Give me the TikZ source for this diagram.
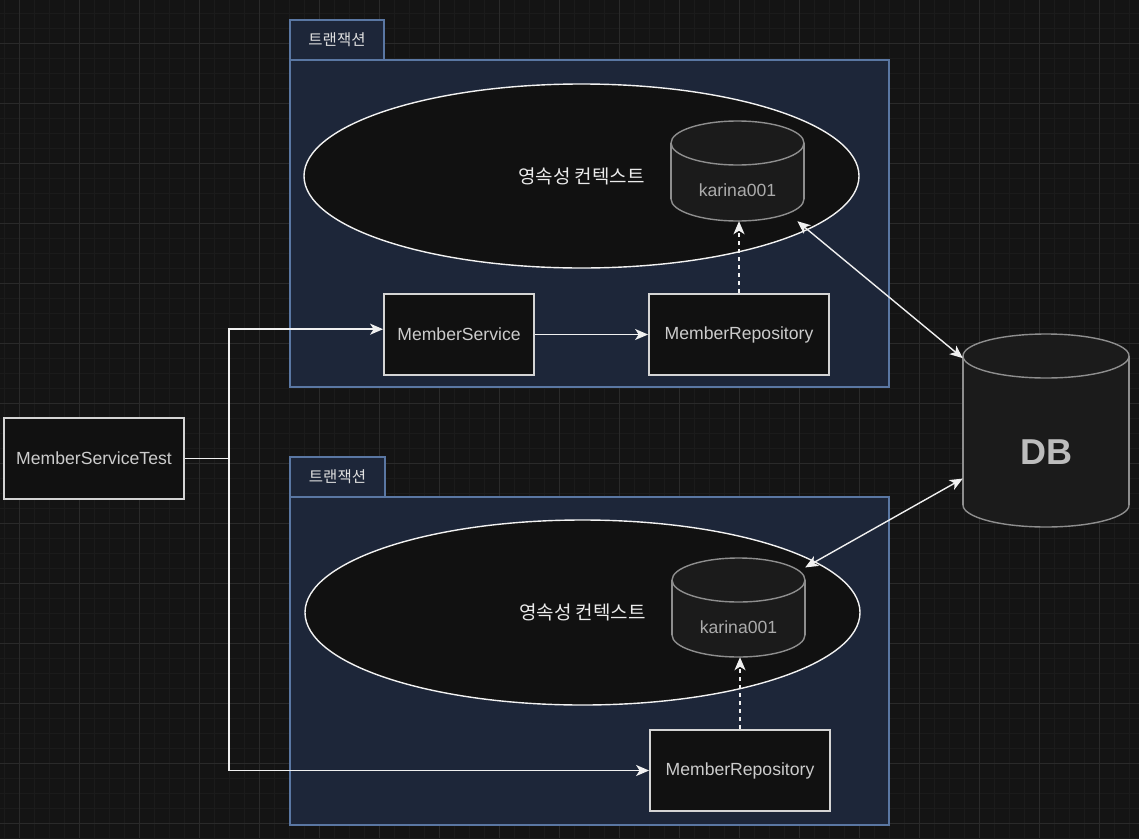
\documentclass[tikz,border=0pt]{standalone}
\usepackage{fontspec}
\setmainfont{Liberation Sans}
\newfontfamily\krfont{Noto Sans CJK KR}
\usetikzlibrary{shapes.geometric,arrows.meta}
\definecolor{bgc}{HTML}{141414}
\definecolor{minorc}{HTML}{1b1b1b}
\definecolor{majorc}{HTML}{2a2a2a}
\definecolor{txfill}{HTML}{1d2639}
\definecolor{txline}{HTML}{5a77a3}
\definecolor{boxfill}{HTML}{111111}
\definecolor{boxline}{HTML}{d4d4d4}
\definecolor{cylfillc}{HTML}{1b1b1b}
\definecolor{cyllinec}{HTML}{8e8e8e}
\tikzset{
	txbox/.style={draw=txline,fill=txfill,line width=1.5pt,inner sep=0pt},
	tablabel/.style={txbox,text=white!88!black,font=\krfont\fontsize{15.5}{18}\selectfont},
	compbox/.style={draw=boxline,fill=boxfill,line width=1.8pt,minimum height=81pt,text=white!80!black,font=\fontsize{17.6}{20}\selectfont},
	ctxell/.style={ellipse,draw=white!95!black,fill=boxfill,line width=1.4pt,inner sep=0pt,text=white!92!black,font=\krfont\fontsize{19}{22}\selectfont},
	cylstyle/.style={draw=cyllinec,fill=cylfillc,line width=1.4pt},
	cylfill/.style={fill=cylfillc},
	link/.style={draw=white!94!black,line width=1.4pt,-{Stealth[length=13pt,width=11pt,inset=3.5pt]}},
	both/.style={link,{Stealth[length=13pt,width=11pt,inset=3.5pt]}-{Stealth[length=13pt,width=11pt,inset=3.5pt]}},
}
% name, cx, cy, half width, half height
\newcommand{\dbcyl}[5]{%
	\node[inner sep=0pt,minimum width={2*#4pt},minimum height={2*#5pt}] (#1) at (#2,#3) {};
	\filldraw[cylstyle] (#2,#3+#5-22) ellipse[x radius=#4,y radius=22];
	\fill[cylfill] (#2-#4,#3-#5+22) rectangle (#2+#4,#3+#5-22);
	\draw[cylstyle] (#2-#4,#3-#5+22) -- (#2-#4,#3+#5-22) (#2+#4,#3-#5+22) -- (#2+#4,#3+#5-22);
	\filldraw[cylstyle] (#2,#3-#5+22) ellipse[x radius=#4,y radius=22];
}
\begin{document}
\begin{tikzpicture}[x=1pt,y=-1pt]
	\fill[bgc] (0,0) rectangle (1139,838);
	\useasboundingbox (0,0) rectangle (1139,838);
	% grid
	\foreach \x in {4,19,...,1139} \draw[minorc,line width=1pt] (\x,0) -- (\x,838);
	\foreach \y in {13,28,...,838} \draw[minorc,line width=1pt] (0,\y) -- (1139,\y);
	\foreach \x in {19,79,...,1139} \draw[majorc,line width=1pt] (\x,0) -- (\x,838);
	\foreach \y in {43,103,...,838} \draw[majorc,line width=1pt] (0,\y) -- (1139,\y);

	% upper transaction
	\node[tablabel,minimum width=94pt,minimum height=40pt] (tabA) at (337,40) {트랜잭션};
	\node[txbox,minimum width=599pt,minimum height=327pt] (txA) at (589.5,223.5) {};
	\node[ctxell,minimum width=555pt,minimum height=184pt] (ctxA) at (581.5,176) {영속성 컨텍스트};
	\dbcyl{karA}{737.5}{171}{66.5}{50}
	\node[text=white!67!black,font=\fontsize{17.6}{20}\selectfont] (karAtxt) at (737.5,190) {karina001};
	\node[compbox,minimum width=150pt] (svc) at (459,334.5) {MemberService};
	\node[compbox,minimum width=180pt] (repA) at (739,334.5) {MemberRepository};

	% lower transaction
	\node[tablabel,minimum width=95pt,minimum height=40pt] (tabB) at (337.5,477) {트랜잭션};
	\node[txbox,minimum width=599pt,minimum height=328pt] (txB) at (589.5,661) {};
	\node[ctxell,minimum width=555pt,minimum height=185pt] (ctxB) at (582.5,612.5) {영속성 컨텍스트};
	\dbcyl{karB}{738.5}{607.5}{66.5}{49.5}
	\node[text=white!67!black,font=\fontsize{17.6}{20}\selectfont] (karBtxt) at (738.5,627) {karina001};
	\node[compbox,minimum width=180pt] (repB) at (740,770.5) {MemberRepository};

	% test and db
	\node[compbox,minimum width=180pt] (test) at (94,458.5) {MemberServiceTest};
	\dbcyl{db}{1046}{430.5}{83}{96.5}
	\node[text=white!74!black,font=\bfseries\fontsize{36}{40}\selectfont] (dbtxt) at (1046,452) {DB};

	% connectors
	\coordinate (fork) at (229,458.5);
	\draw[link] (test.east) -- (fork) |- (svc.176);
	\draw[link] (fork) |- (repB.west);
	\draw[link] (svc.east) -- (repA.west);
	\draw[link,dashed,dash pattern=on 4pt off 4pt] (repA.north) -- (repA.north |- karA.south);
	\draw[link,dashed,dash pattern=on 4pt off 4pt] (repB.north) -- (repB.north |- karB.south);
	\draw[both] (karA.-40) -- (db.139);
	\draw[both] (karB.31) -- (db.210);
\end{tikzpicture}
\end{document}
